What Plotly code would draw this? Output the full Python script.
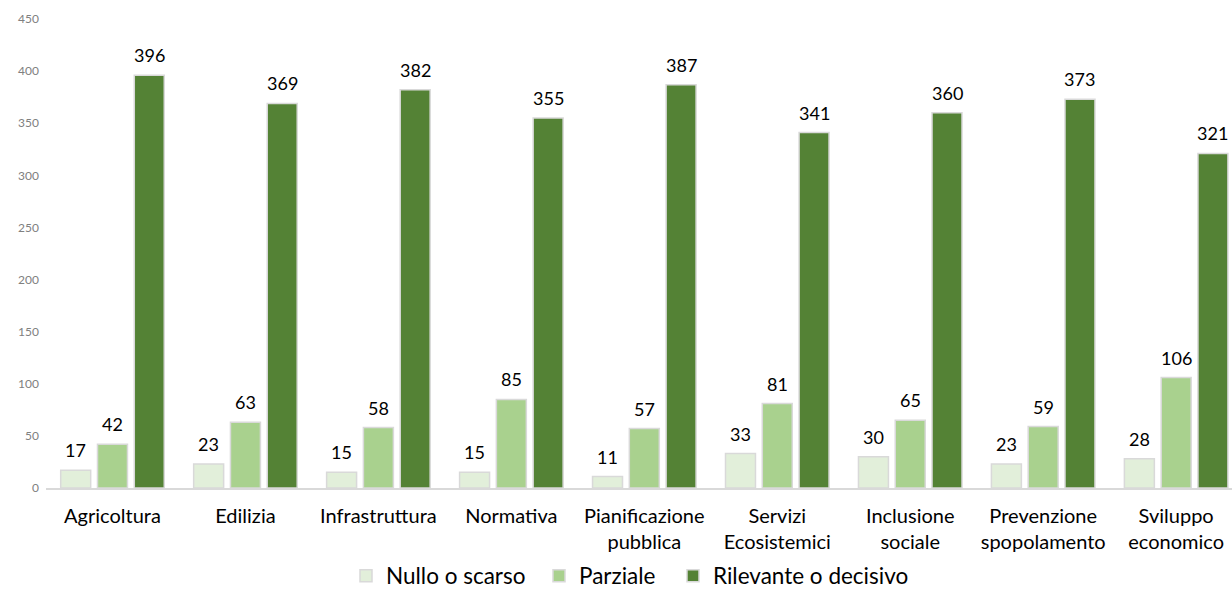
import plotly.graph_objects as go

categories = ["Agricoltura", "Edilizia", "Infrastruttura", "Normativa",
              "Pianificazione<br>pubblica", "Servizi<br>Ecosistemici",
              "Inclusione<br>sociale", "Prevenzione<br>spopolamento",
              "Sviluppo<br>economico"]
nullo = [17, 23, 15, 15, 11, 33, 30, 23, 28]
parziale = [42, 63, 58, 85, 57, 81, 65, 59, 106]
rilevante = [396, 369, 382, 355, 387, 341, 360, 373, 321]

series = [
    ("Nullo o scarso", nullo, "#e2efda"),
    ("Parziale", parziale, "#a9d18e"),
    ("Rilevante o decisivo", rilevante, "#548235"),
]

W, H = 1232, 592
ML, MR, MT, MB = 46, 0, 19, 104
X_RANGE = [-0.5, 8.42]
BARGAP = 0.17
BARGROUPGAP = 0.185
# left edge (px) of each legend entry box along the bottom row
LEGEND_LEFT = [346, 539, 673]
LEGEND_Y = 0.027

legend_ids = ["legend", "legend2", "legend3"]

fig = go.Figure()
for (name, vals, color), lid in zip(series, legend_ids):
    fig.add_trace(go.Bar(
        x=categories, y=vals, name=name, legend=lid,
        marker=dict(color=color, line=dict(color="#d9d9d9", width=1.5)),
    ))

# value labels above each bar, offset to the bar's slot within its group
px_per_cat = (W - ML - MR) / (X_RANGE[1] - X_RANGE[0])
slot = (1 - BARGAP) * px_per_cat / len(series)
for i, (name, vals, color) in enumerate(series):
    for cat, v in zip(categories, vals):
        fig.add_annotation(
            x=cat, y=v, xref="x", yref="y", text=str(v), showarrow=False,
            xanchor="center", yanchor="bottom",
            xshift=(i - 1) * slot, yshift=7,
            font=dict(family="Lato, sans-serif", size=18, color="#000000"),
        )

legend_style = dict(orientation="h", xref="container", yref="container",
                    xanchor="left", yanchor="middle", y=LEGEND_Y,
                    font=dict(size=22.5), itemwidth=30,
                    bgcolor="rgba(0,0,0,0)")

fig.update_layout(
    width=W, height=H,
    margin=dict(l=ML, r=MR, t=MT, b=MB, autoexpand=False),
    paper_bgcolor="white", plot_bgcolor="white",
    barmode="group", bargap=BARGAP, bargroupgap=BARGROUPGAP,
    font=dict(family="Lato, sans-serif", color="#000000"),
    legend=dict(x=LEGEND_LEFT[0] / W, **legend_style),
    legend2=dict(x=LEGEND_LEFT[1] / W, **legend_style),
    legend3=dict(x=LEGEND_LEFT[2] / W, **legend_style),
    showlegend=True,
)
fig.update_xaxes(
    range=X_RANGE, showline=True, linecolor="#d9d9d9", linewidth=1.5,
    ticks="", tickfont=dict(size=20, color="#000000"), ticklabelstandoff=9,
    tickangle=0, automargin=False,
)
fig.update_yaxes(
    range=[0, 450], dtick=50, showgrid=False, zeroline=False,
    tickfont=dict(size=12, color="#808080"), ticklabelstandoff=6,
    automargin=False,
)

fig.write_html("out.html")
